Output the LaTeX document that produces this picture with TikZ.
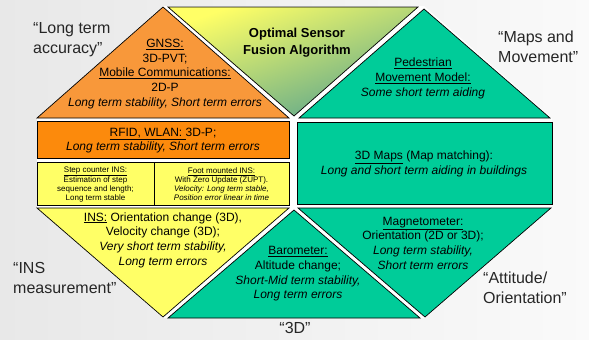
\documentclass[tikz,border=0pt]{standalone}
\usepackage{fontspec}
\setmainfont{Liberation Sans}
\usetikzlibrary{calc, positioning}

\definecolor{gnssorange}{RGB}{248,152,58}
\definecolor{rfidorange}{RGB}{252,138,12}
\definecolor{insyellow}{RGB}{255,255,102}
\definecolor{mapteal}{RGB}{0,204,153}
\definecolor{fusiongreen}{RGB}{92,166,140}

\tikzset{
  tile/.style={draw=black, line width=0.7pt, line join=miter},
  bodytext/.style={align=center, inner sep=0pt, font=\fontsize{12}{14.7}\selectfont},
  smalltext/.style={align=center, inner sep=0pt, font=\fontsize{8}{9}\selectfont},
  quotetext/.style={align=left, inner sep=0pt, text=black!85, font=\fontsize{16}{20}\selectfont},
}

\begin{document}
\begin{tikzpicture}[x=1pt, y=-1pt]
    % Page and light background
    \useasboundingbox (0,0) rectangle (589,340);
    \shade[left color=black!9, right color=black!2] (0,0) rectangle (589,340);

    % White backing, shows as gaps between the tiles
    \fill[white] (37,118) -- (163,6) -- (424,6) -- (552,118) -- (552,208)
      -- (425,318) -- (163,318) -- (37,208) -- cycle;

    % Upper row of triangles
    \filldraw[tile, fill=gnssorange] (37,118) -- (163,7) -- (289,118) -- cycle;
    \shadedraw[tile, top color=insyellow, bottom color=fusiongreen, shading angle=20]
      (168,7) -- (418,7) -- (294,116) -- cycle;
    \filldraw[tile, fill=mapteal] (299,118) -- (424,9) -- (550,118) -- cycle;

    % Middle band
    \filldraw[tile, fill=rfidorange] (37,121) rectangle (289,158);
    \filldraw[tile, fill=insyellow] (37,162) rectangle (154,205);
    \filldraw[tile, fill=insyellow] (154,162) rectangle (289,205);
    \filldraw[tile, fill=mapteal] (297,122) rectangle (552,204);

    % Lower row of triangles
    \filldraw[tile, fill=insyellow] (37,208) -- (289,208) -- (163,317) -- cycle;
    \filldraw[tile, fill=mapteal] (168,318) -- (294,210) -- (420,318) -- cycle;
    \filldraw[tile, fill=mapteal] (298,208) -- (551,208) -- (425,317) -- cycle;

    % Texts inside the tiles
    \node[bodytext] (gnss) at (165,74)
      {\underline{GNSS:}\\3D-PVT;\\\underline{Mobile Communications:}\\2D-P\\
       \textit{Long term stability, Short term errors}};
    \node[align=center, inner sep=0pt, font=\fontsize{13}{17}\selectfont\bfseries] (fusion) at (297,43)
      {Optimal Sensor\\Fusion Algorithm};
    \node[bodytext] (pedestrian) at (423,78.5)
      {\underline{Pedestrian}\\\underline{Movement Model:}\\\textit{Some short term aiding}};
    \node[bodytext] (rfid) at (163,140.5)
      {\underline{RFID, WLAN: }3D-P;\\\textit{Long term stability, Short term errors}};
    \node[smalltext] (stepcounter) at (95.5,184.5)
      {\underline{Step counter INS:}\\Estimation of step\\sequence and length;\\Long term stable};
    \node[smalltext] (footins) at (221.5,184.5)
      {\underline{Foot mounted INS:}\\With Zero Update (ZUPT).\\
       \textit{Velocity: Long term stable,}\\\textit{Position error linear in time}};
    \node[bodytext] (maps) at (424,164)
      {\underline{3D Maps} (Map matching):\\\textit{Long and short term aiding in buildings}};
    \node[bodytext] (ins) at (163,240)
      {\underline{INS:} Orientation change (3D),\\Velocity change (3D);\\
       \textit{Very short term stability,}\\\textit{Long term errors}};
    \node[bodytext] (barometer) at (298,274)
      {\underline{Barometer:}\\Altitude change;\\\textit{Short-Mid term stability,}\\\textit{Long term errors}};
    \node[bodytext] (magnetometer) at (423,243)
      {\underline{Magnetometer:}\\Orientation (2D or 3D);\\\textit{Long term stability,}\\\textit{Short term errors}};

    % Quoted labels around the octagon
    \node[quotetext, anchor=west] (accuracy) at (33,40) {“Long term\\accuracy”};
    \node[quotetext, anchor=west] (movement) at (498,47) {“Maps and\\Movement”};
    \node[quotetext, anchor=west] (measurement) at (13,278) {“INS\\measurement”};
    \node[quotetext, anchor=west] (attitude) at (483,288) {“Attitude/\\Orientation”};
    \node[quotetext] (threed) at (295,328) {“3D”};
\end{tikzpicture}
\end{document}
